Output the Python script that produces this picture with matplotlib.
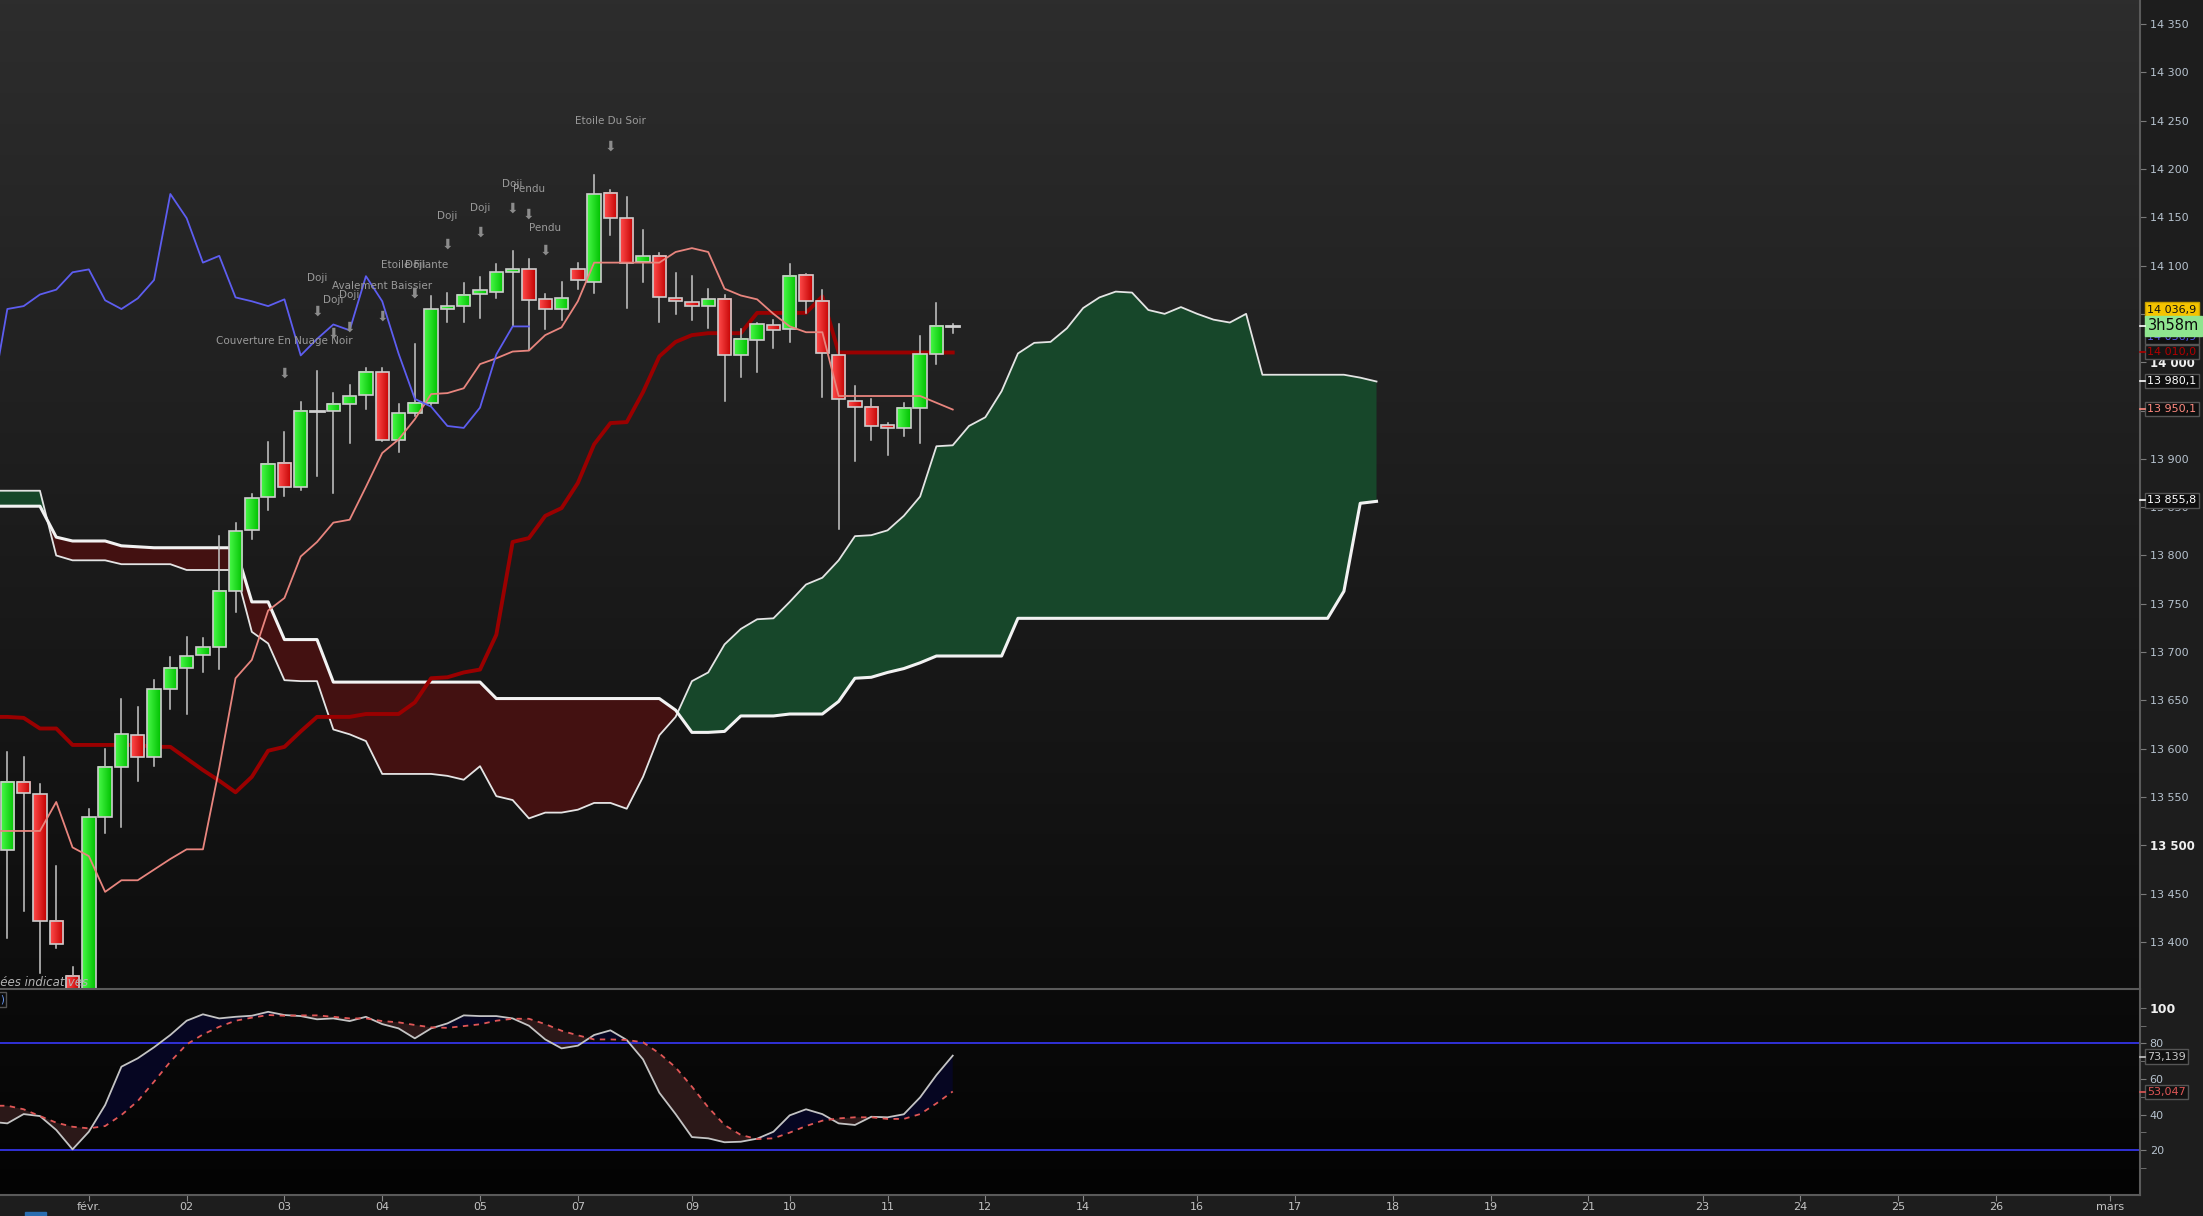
import numpy as np
import matplotlib
matplotlib.use("Agg")
import matplotlib.pyplot as plt
import matplotlib.transforms as mtransforms
from matplotlib.patches import Rectangle
from matplotlib.colors import LinearSegmentedColormap

# 4h candles, bar index 0..58
opens = [13495, 13566, 13553, 13422, 13365, 13300, 13529, 13581, 13614, 13592,
         13662, 13684, 13697, 13705, 13763, 13826, 13860, 13896, 13871, 13950,
         13949, 13957, 13966, 13990, 13920, 13947, 13958, 14055, 14058, 14071,
         14073, 14093, 14096, 14065, 14055, 14096, 14083, 14175, 14149, 14104,
         14110, 14066, 14062, 14058, 14065, 14007, 14023, 14038, 14034, 14090,
         14063, 14007, 13960, 13954, 13935, 13932, 13953, 14008, 14037]
highs = [13597, 13592, 13564, 13479, 13374, 13538, 13600, 13652, 13643, 13671,
         13695, 13716, 13715, 13820, 13834, 13864, 13917, 13928, 13959, 13991,
         13968, 13976, 13994, 13994, 13957, 14019, 14068, 14072, 14082, 14088,
         14102, 14115, 14107, 14071, 14083, 14103, 14194, 14178, 14171, 14137,
         14113, 14092, 14089, 14076, 14070, 14034, 14041, 14044, 14102, 14091,
         14075, 14039, 13975, 13962, 13937, 13958, 14027, 14061, 14040]
lows = [13404, 13432, 13368, 13394, 13330, 13290, 13513, 13519, 13567, 13582,
        13641, 13636, 13679, 13683, 13742, 13817, 13847, 13862, 13868, 13882,
        13865, 13916, 13952, 13918, 13907, 13944, 13956, 14042, 14042, 14046,
        14066, 14037, 14013, 14034, 14044, 14076, 14072, 14132, 14056, 14083,
        14042, 14050, 14044, 14035, 13960, 13985, 13990, 14015, 14021, 14051,
        13964, 13827, 13898, 13919, 13904, 13924, 13916, 13998, 14030]
closes = [13566, 13554, 13422, 13398, 13340, 13529, 13581, 13615, 13592, 13662,
          13684, 13696, 13705, 13763, 13825, 13859, 13895, 13871, 13950, 13950,
          13957, 13965, 13990, 13920, 13947, 13958, 14055, 14058, 14070, 14075,
          14093, 14096, 14064, 14055, 14066, 14085, 14174, 14149, 14103, 14110,
          14067, 14063, 14058, 14065, 14007, 14024, 14039, 14033, 14089, 14063,
          14009, 13962, 13954, 13934, 13932, 13953, 14008, 14037, 14037]

# Ichimoku, bar index -1..58
tenkan = [13515, 13515, 13515, 13515, 13545, 13498, 13489, 13452, 13464, 13464,
          13475, 13486, 13496, 13496, 13580, 13673, 13692, 13743, 13756, 13799,
          13814, 13834, 13837, 13871, 13906, 13920, 13941, 13967, 13968, 13973,
          13998, 14004, 14011, 14012, 14028, 14036, 14063, 14103, 14103, 14103,
          14103, 14103, 14114, 14118, 14114, 14076, 14069, 14065, 14050, 14037,
          14031, 14031, 13965, 13965, 13965, 13965, 13965, 13965, 13958, 13951]
kijun = [13633, 13633, 13632, 13621, 13621, 13604, 13604, 13604, 13604, 13604,
         13602, 13602, 13590, 13578, 13567, 13555, 13571, 13598, 13602, 13618,
         13633, 13633, 13633, 13636, 13636, 13636, 13648, 13673, 13674, 13679,
         13682, 13718, 13814, 13818, 13841, 13849, 13875, 13915, 13937, 13938,
         13969, 14006, 14021, 14028, 14030, 14030, 14030, 14051, 14051, 14051,
         14051, 14068, 14010, 14010, 14010, 14010, 14010, 14010, 14010, 14010]
# Senkou spans, bar index -1..84 (projected 26 bars ahead)
senkou_a = [13867, 13867, 13867, 13867, 13800, 13795, 13795, 13795, 13791, 13791,
            13791, 13791, 13785, 13785, 13785, 13785, 13721, 13709, 13671, 13670,
            13670, 13620, 13615, 13608, 13574, 13574, 13574, 13574, 13572, 13568,
            13582, 13551, 13547, 13528, 13534, 13534, 13537, 13544, 13544, 13538,
            13571, 13614, 13633, 13670, 13679, 13708, 13724, 13734, 13735, 13752,
            13770, 13777, 13795, 13820, 13821, 13826, 13841, 13861, 13913, 13914,
            13934, 13943, 13970, 14009, 14020, 14021, 14035, 14056, 14067, 14073,
            14072, 14054, 14050, 14057, 14050, 14044, 14041, 14050, 13987, 13987,
            13987, 13987, 13987, 13987, 13984, 13980]
senkou_b = [13851, 13851, 13851, 13851, 13819, 13815, 13815, 13815, 13810, 13809,
            13808, 13808, 13808, 13808, 13808, 13808, 13752, 13752, 13713, 13713,
            13713, 13669, 13669, 13669, 13669, 13669, 13669, 13669, 13669, 13669,
            13669, 13652, 13652, 13652, 13652, 13652, 13652, 13652, 13652, 13652,
            13652, 13652, 13640, 13617, 13617, 13618, 13634, 13634, 13634, 13636,
            13636, 13636, 13649, 13673, 13674, 13679, 13683, 13689, 13696, 13696,
            13696, 13696, 13696, 13735, 13735, 13735, 13735, 13735, 13735, 13735,
            13735, 13735, 13735, 13735, 13735, 13735, 13735, 13735, 13735, 13735,
            13735, 13735, 13735, 13763, 13854, 13856]

# Stochastic, bar index -1..58
stoch_k = [36.0, 35.1, 40.3, 39.2, 31.4, 20.5, 30.4, 45.4, 66.9, 71.6,
           77.8, 84.7, 92.7, 96.3, 94.0, 94.9, 95.5, 97.7, 95.9, 95.3,
           93.5, 94.0, 92.5, 94.9, 90.8, 88.4, 82.8, 88.4, 91.2, 95.7,
           95.3, 95.3, 94.0, 89.9, 82.2, 77.2, 78.7, 84.7, 87.3, 81.9,
           71.0, 52.3, 40.3, 27.4, 26.7, 24.5, 24.8, 26.5, 30.4, 39.6,
           43.0, 40.3, 35.1, 34.2, 38.8, 38.5, 40.2, 49.7, 62.2, 73.1]
stoch_d = [45.0, 45.0, 43.0, 39.2, 35.5, 33.2, 32.3, 33.6, 39.8, 47.6,
           58.5, 69.7, 79.4, 85.0, 89.3, 92.7, 94.4, 95.9, 95.5, 95.7,
           95.7, 94.9, 94.0, 94.0, 92.5, 91.8, 90.3, 89.0, 88.7, 89.7,
           90.7, 92.7, 93.8, 93.8, 90.8, 87.1, 84.5, 82.2, 82.2, 81.9,
           80.6, 74.4, 66.5, 55.7, 44.1, 34.2, 28.6, 26.3, 26.7, 29.9,
           33.6, 36.6, 37.9, 38.5, 38.5, 37.6, 37.6, 40.3, 46.3, 53.0]

date_ticks = [5, 11, 17, 23, 29, 35, 42, 48, 54, 60, 66, 73, 79, 85, 91, 97,
              104, 110, 116, 122, 129]
date_labels = ["févr.", "02", "03", "04", "05", "07", "09", "10", "11", "12", "14",
               "16", "17", "18", "19", "21", "23", "24", "25", "26", "mars"]
price_ticks = [13400, 13450, 13500, 13550, 13600, 13650, 13700, 13750, 13800,
               13850, 13900, 13950, 14000, 14050, 14100, 14150, 14200, 14250,
               14300, 14350]

# candle patterns: name, bar, text level, arrow level
patterns = [
    ("Couverture En Nuage Noir", 17, 14022, 13988),
    ("Doji", 19, 14087, 14052),
    ("Doji", 20, 14064, 14029),
    ("Doji", 21, 14069, 14036),
    ("Avalement Baissier", 23, 14079, 14047),
    ("Etoile Filante", 25, 14101, 14071),
    ("Doji", 25, 14101, 14071),
    ("Doji", 27, 14151, 14122),
    ("Doji", 29, 14160, 14134),
    ("Doji", 31, 14184, 14159),
    ("Pendu", 32, 14179, 14153),
    ("Pendu", 33, 14139, 14115),
    ("Etoile Du Soir", 37, 14249, 14223),
]

W, H = 2203, 1216
fig = plt.figure(figsize=(W / 100, H / 100), dpi=100, facecolor="#1d1d1d")
ax = fig.add_axes([0, 227 / H, 2140 / W, 989 / H])
ax2 = fig.add_axes([0, 21 / H, 2140 / W, 206 / H])

XLIM = (-0.45, 130.84)

# backgrounds
bg_main = LinearSegmentedColormap.from_list("bgm", ["#2d2d2d", "#0d0d0d"])
ax.imshow(np.linspace(0, 1, 256).reshape(-1, 1), cmap=bg_main, extent=[0, 1, 0, 1],
          transform=ax.transAxes, aspect="auto", zorder=0)
bg_st = LinearSegmentedColormap.from_list("bgs", ["#0b0b0b", "#030303"])
ax2.imshow(np.linspace(0, 1, 256).reshape(-1, 1), cmap=bg_st, extent=[0, 1, 0, 1],
           transform=ax2.transAxes, aspect="auto", zorder=0)

# cloud
xs = np.arange(-1, len(senkou_a) - 1)
sa = np.array(senkou_a)
sb = np.array(senkou_b)
ax.fill_between(xs, sa, sb, where=sa >= sb, interpolate=True, color="#17472a", lw=0, zorder=2)
ax.fill_between(xs, sa, sb, where=sa < sb, interpolate=True, color="#431111", lw=0, zorder=2)
ax.plot(xs, sa, color="#e4e4e4", lw=1.3, zorder=3)
ax.plot(xs, sb, color="#f2f2f2", lw=2.2, zorder=3)

# tenkan / kijun / chikou
xi = np.arange(-1, len(tenkan) - 1)
ax.plot(xi, kijun, color="#9a0000", lw=2.8, zorder=4)
ax.plot(xi, tenkan, color="#e8857e", lw=1.3, zorder=7)
xc = np.arange(len(closes)) - 26
keep = xc >= -1
ax.plot(xc[keep], np.array(closes)[keep], color="#5d5df0", lw=1.3, zorder=7)

# candles
green = LinearSegmentedColormap.from_list("g", ["#48f748", "#00c200"])
red = LinearSegmentedColormap.from_list("r", ["#ff4b4b", "#c20000"])
grad = np.linspace(0, 1, 32).reshape(1, -1)
w = 0.82
for i in range(len(opens)):
    o, h, l, c = opens[i], highs[i], lows[i], closes[i]
    ax.plot([i, i], [l, h], color="#c8c8c8", lw=1.1, zorder=5)
    if o == c:
        ax.plot([i - w / 2, i + w / 2], [o, o], color="#d0d0d0", lw=2, zorder=6)
        continue
    lo, hi = min(o, c), max(o, c)
    ax.imshow(grad, cmap=green if c > o else red, extent=[i - w / 2, i + w / 2, lo, hi],
              aspect="auto", interpolation="bilinear", zorder=6)
    ax.add_patch(Rectangle((i - w / 2, lo), w, hi - lo, fill=False, ec="#cdcdcd", lw=1.2, zorder=6.5))

# pattern annotations
for name, bar, ty, ay in patterns:
    ax.text(bar, ty, name, color="#9a9a9a", fontsize=7.5, ha="center", va="center", zorder=8)
    ax.text(bar, ay, "⬇", color="#8c8c8c", fontsize=10, ha="center", va="center", zorder=8)

ax.set_xlim(*XLIM)
ax.set_ylim(13351.5, 14374.7)
ax.set_xticks([])
ax.yaxis.tick_right()
ax.set_yticks(price_ticks)
ax.set_yticklabels([f"{p:,}".replace(",", " ") for p in price_ticks])
ax.tick_params(axis="y", colors="#7a7a7a", labelcolor="#b6c2ce", labelsize=8, length=4, pad=3)
for t in ax.get_yticklabels():
    if t.get_text() in ("13 500", "14 000"):
        t.set_fontweight("bold")
        t.set_color("#f0f0f0")
        t.set_fontsize(8.5)
for s in ("top", "left", "bottom"):
    ax.spines[s].set_visible(False)
ax.spines["right"].set_color("#5a5a5a")
ax.spines["right"].set_linewidth(1.5)

# price tags on the right scale
def tag(axis, y, text, fc, tc, ec="#555555", size=8, z=20, tick=None):
    tr = mtransforms.blended_transform_factory(axis.transAxes, axis.transData)
    axis.text(1.0035, y, text, transform=tr, color=tc, fontsize=size, ha="left", va="center",
              zorder=z, clip_on=False,
              bbox=dict(boxstyle="square,pad=0.2", fc=fc, ec=ec, lw=1))
    if tick:
        axis.plot([1.0, 1.0025], [y, y], transform=tr, color=tick, lw=1.2, clip_on=False, zorder=z)

tag(ax, 14026, "14 036,9", "#101010", "#5d5df0", z=19)
tag(ax, 14054.4, "14 036,9", "#f5c400", "#111111", ec="#c8a000", z=21)
tag(ax, 14037.5, "3h58m", "#8fe58f", "#0a0a0a", ec="#8fe58f", size=10.5, z=22, tick="#ffffff")
tag(ax, 14010.5, "14 010,0", "#141414", "#b00000", z=20, tick="#b00000")
tag(ax, 13980.8, "13 980,1", "#0f0f0f", "#ffffff", z=20, tick="#ffffff")
tag(ax, 13951.6, "13 950,1", "#0f0f0f", "#ff8a80", z=20, tick="#ff8a80")
tag(ax, 13857.0, "13 855,8", "#0f0f0f", "#ffffff", z=20, tick="#ffffff")

# stochastic panel
xk = np.arange(-1, len(stoch_k) - 1)
k = np.array(stoch_k)
d = np.array(stoch_d)
ax2.fill_between(xk, k, d, where=k >= d, interpolate=True, color="#060622", lw=0, zorder=1)
ax2.fill_between(xk, k, d, where=k < d, interpolate=True, color="#2b1818", lw=0, zorder=1)
ax2.axhline(80, color="#3434e6", lw=1.3, zorder=2)
ax2.axhline(20, color="#3434e6", lw=1.3, zorder=2)
ax2.plot(xk, k, color="#c4c4c4", lw=1.3, zorder=3)
ax2.plot(xk, d, color="#e05656", lw=1.3, ls=(0, (3, 3)), zorder=3)
ax2.set_xlim(*XLIM)
ax2.set_ylim(-5.1, 110.5)
ax2.yaxis.tick_right()
ax2.set_yticks([20, 40, 60, 80, 100])
ax2.set_yticklabels(["20", "40", "60", "80", "100"])
ax2.set_yticks([10, 30, 50, 70, 90], minor=True)
ax2.tick_params(axis="y", which="both", colors="#7a7a7a", labelcolor="#b6c2ce", labelsize=8, length=4, pad=3)
for t in ax2.get_yticklabels():
    if t.get_text() == "100":
        t.set_fontweight("bold")
        t.set_color("#f0f0f0")
        t.set_fontsize(9)
ax2.set_xticks(date_ticks)
ax2.set_xticklabels(date_labels)
ax2.tick_params(axis="x", colors="#888888", labelcolor="#c4c4c4", labelsize=8, length=4, pad=1)
ax2.spines["left"].set_visible(False)
for s in ("top", "right", "bottom"):
    ax2.spines[s].set_color("#5a5a5a")
    ax2.spines[s].set_linewidth(1.5)
tag(ax2, 72.6, "73,139", "#111111", "#c8c8c8", z=20, tick="#c8c8c8")
tag(ax2, 52.7, "53,047", "#111111", "#e05656", z=20, tick="#e05656")
ax2.text(0.0, 0.975, ")", transform=ax2.transAxes, color="#6fa0ff", fontsize=7, ha="left", va="top",
         bbox=dict(boxstyle="square,pad=0.25", fc="#0b0b0b", ec="#555555", lw=1))

fig.text(88 / W, 1 - 983 / H, "Données indicatives", ha="right", va="center", style="italic",
         color="#b4b4b4", fontsize=8.5)
fig.add_artist(Rectangle((25 / W, 0), 21 / W, 4 / H, transform=fig.transFigure, color="#2a6db0"))

fig.savefig("out.png", dpi=100, facecolor=fig.get_facecolor())
